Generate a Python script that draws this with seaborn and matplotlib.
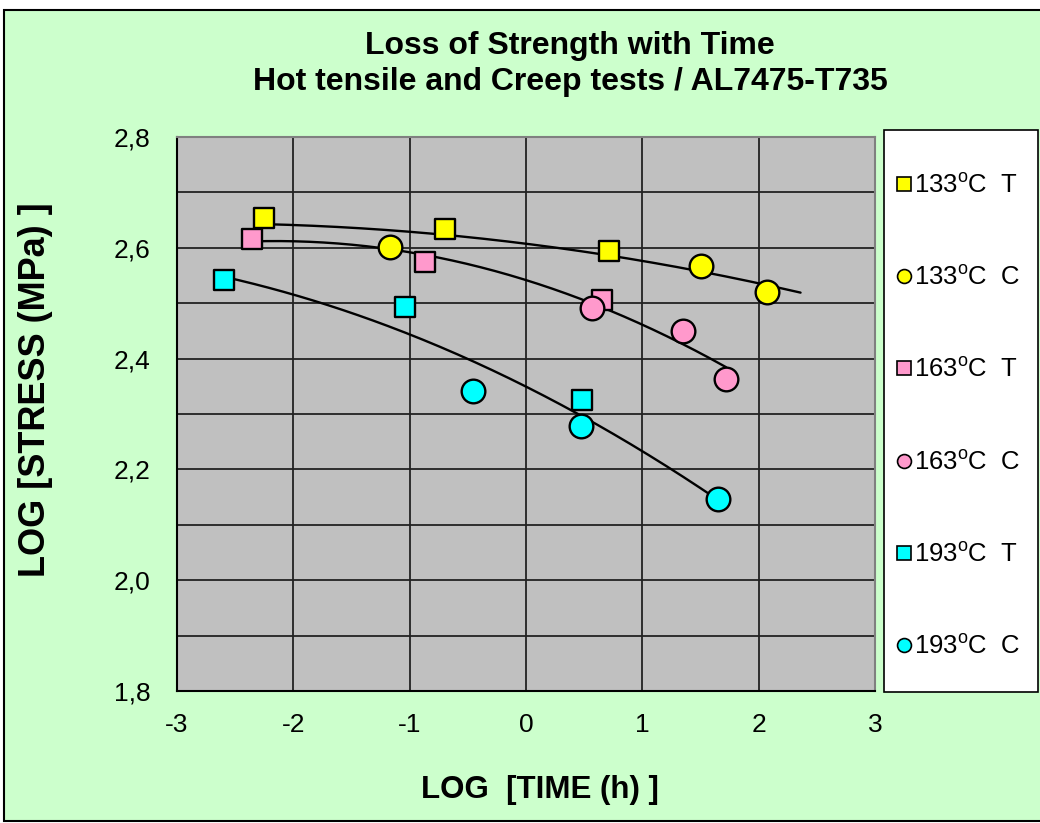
import numpy as np
import pandas as pd
import matplotlib
matplotlib.use("Agg")
import matplotlib.pyplot as plt
import seaborn as sns
from matplotlib.patches import Rectangle
from matplotlib.lines import Line2D

# ---------------- data ----------------
series_names = ["133ºC  T", "133ºC  C", "163ºC  T", "163ºC  C", "193ºC  T", "193ºC  C"]
legend_labels = ["133$^\\mathregular{o}$C  T", "133$^\\mathregular{o}$C  C",
                 "163$^\\mathregular{o}$C  T", "163$^\\mathregular{o}$C  C",
                 "193$^\\mathregular{o}$C  T", "193$^\\mathregular{o}$C  C"]

x_133T = [-2.25, -0.70, 0.715]
y_133T = [2.654, 2.634, 2.595]
x_133C = [-1.17, 1.50, 2.07]
y_133C = [2.602, 2.568, 2.521]
x_163T = [-2.355, -0.87, 0.655]
y_163T = [2.616, 2.575, 2.505]
x_163C = [0.57, 1.35, 1.72]
y_163C = [2.492, 2.449, 2.364]
x_193T = [-2.596, -1.04, 0.48]
y_193T = [2.541, 2.494, 2.326]
x_193C = [-0.455, 0.474, 1.65]
y_193C = [2.342, 2.279, 2.146]

temps = ["133", "163", "193"]
trend_x_start = [-2.25, -2.355, -2.596]
trend_x_end = [2.36, 1.72, 1.65]

x_ticks = [-3, -2, -1, 0, 1, 2, 3]
x_tick_labels = ["-3", "-2", "-1", "0", "1", "2", "3"]
y_ticks = [1.8, 2.0, 2.2, 2.4, 2.6, 2.8]
y_tick_labels = ["1,8", "2,0", "2,2", "2,4", "2,6", "2,8"]
y_minor = [1.9, 2.1, 2.3, 2.5, 2.7]

title_text = "Loss of Strength with Time\nHot tensile and Creep tests / AL7475-T735"
x_label = "LOG  [TIME (h) ]"
y_label = "LOG [STRESS (MPa) ]"

# ---------------- style ----------------
colors = {"133": "#FFFF00", "163": "#FF99CC", "193": "#00FFFF"}
GREEN = "#CCFFCC"
GRAY = "#C0C0C0"

sns.set_theme(style="white")
plt.rcParams["font.family"] = ["Liberation Sans", "DejaVu Sans"]
plt.rcParams["text.color"] = "black"
plt.rcParams["mathtext.fontset"] = "custom"
plt.rcParams["mathtext.rm"] = "Liberation Sans"

rows = []
pairs = [(x_133T, y_133T), (x_133C, y_133C), (x_163T, y_163T),
         (x_163C, y_163C), (x_193T, y_193T), (x_193C, y_193C)]
for name, (xs, ys) in zip(series_names, pairs):
    for xv, yv in zip(xs, ys):
        rows.append({"x": xv, "y": yv, "series": name,
                     "temp": name[:3], "kind": name[-1]})
df = pd.DataFrame(rows)

fig = plt.figure(figsize=(10.4, 8.23), dpi=100)
fig.patch.set_facecolor("white")
fig.patches.append(Rectangle((4 / 1040, 2 / 823), 1.2, 811 / 823,
                             transform=fig.transFigure, facecolor=GREEN,
                             edgecolor="black", linewidth=1.5, zorder=-10))

ax = fig.add_axes([177 / 1040, 1 - 691 / 823, 698 / 1040, 554 / 823])
ax.set_facecolor(GRAY)

# trend lines (2nd order polynomial fits per temperature)
for t, xs0, xs1 in zip(temps, trend_x_start, trend_x_end):
    sub = df[df["temp"] == t]
    coef = np.polyfit(sub["x"], sub["y"], 2)
    xx = np.linspace(xs0, xs1, 200)
    sns.lineplot(x=xx, y=np.polyval(coef, xx), ax=ax, color="black",
                 linewidth=1.7, zorder=4, sort=False, estimator=None)

for name in series_names:
    sub = df[df["series"] == name]
    t = name[:3]
    is_sq = name.endswith("T")
    sns.scatterplot(data=sub, x="x", y="y", ax=ax,
                    marker="s" if is_sq else "o",
                    s=200 if is_sq else 290,
                    color=colors[t], edgecolor="black", linewidth=1.7,
                    zorder=5 if is_sq else 6, legend=False)

ax.set_xlim(-3, 3)
ax.set_ylim(1.8, 2.8)
ax.set_xticks(x_ticks)
ax.set_xticklabels(x_tick_labels)
ax.set_yticks(y_ticks)
ax.set_yticklabels(y_tick_labels)
ax.set_yticks(y_minor, minor=True)
ax.tick_params(axis="both", which="major", direction="out", length=7,
               width=1.2, color="black", labelcolor="black", labelsize=19)
ax.tick_params(axis="x", which="major", pad=9)
ax.tick_params(axis="y", which="major", pad=12)
ax.tick_params(axis="y", which="minor", length=0)
ax.grid(True, which="both", axis="both", color="#222222", linewidth=1.3)
ax.set_axisbelow(True)
for side in ["left", "bottom"]:
    ax.spines[side].set_color("black")
    ax.spines[side].set_linewidth(1.5)
for side in ["top", "right"]:
    ax.spines[side].set_color("#808080")
    ax.spines[side].set_linewidth(1.5)

ax.set_xlabel("")
ax.set_ylabel("")
fig.text(540 / 1040, 1 - 790 / 823, x_label, ha="center", va="center",
         fontsize=22.5, fontweight="bold", color="black")
fig.text(36 / 1040, 1 - 390 / 823, y_label, ha="center", va="center",
         rotation=90, fontsize=26, fontweight="bold", color="black")
fig.text(570 / 1040, 1 - 64 / 823, title_text, ha="center", va="center",
         fontsize=23, fontweight="bold", linespacing=1.29, color="black")

# legend box
fig.patches.append(Rectangle((884 / 1040, 1 - 692 / 823), 154 / 1040, 562 / 823,
                             transform=fig.transFigure, facecolor="white",
                             edgecolor="black", linewidth=1.2, zorder=1))
handles = []
for name in series_names:
    t = name[:3]
    handles.append(Line2D([], [], linestyle="none",
                          marker="s" if name.endswith("T") else "o",
                          markersize=10, markerfacecolor=colors[t],
                          markeredgecolor="black", markeredgewidth=1.2))
leg = fig.legend(handles, legend_labels, loc="upper left",
                 bbox_to_anchor=(896 / 1040, 1 - 173 / 823),
                 frameon=False, fontsize=18.5, labelspacing=2.63,
                 handlelength=0.6, handletextpad=0.1, borderpad=0,
                 borderaxespad=0, labelcolor="black")

fig.savefig("out.png", dpi=100, facecolor=fig.get_facecolor())
